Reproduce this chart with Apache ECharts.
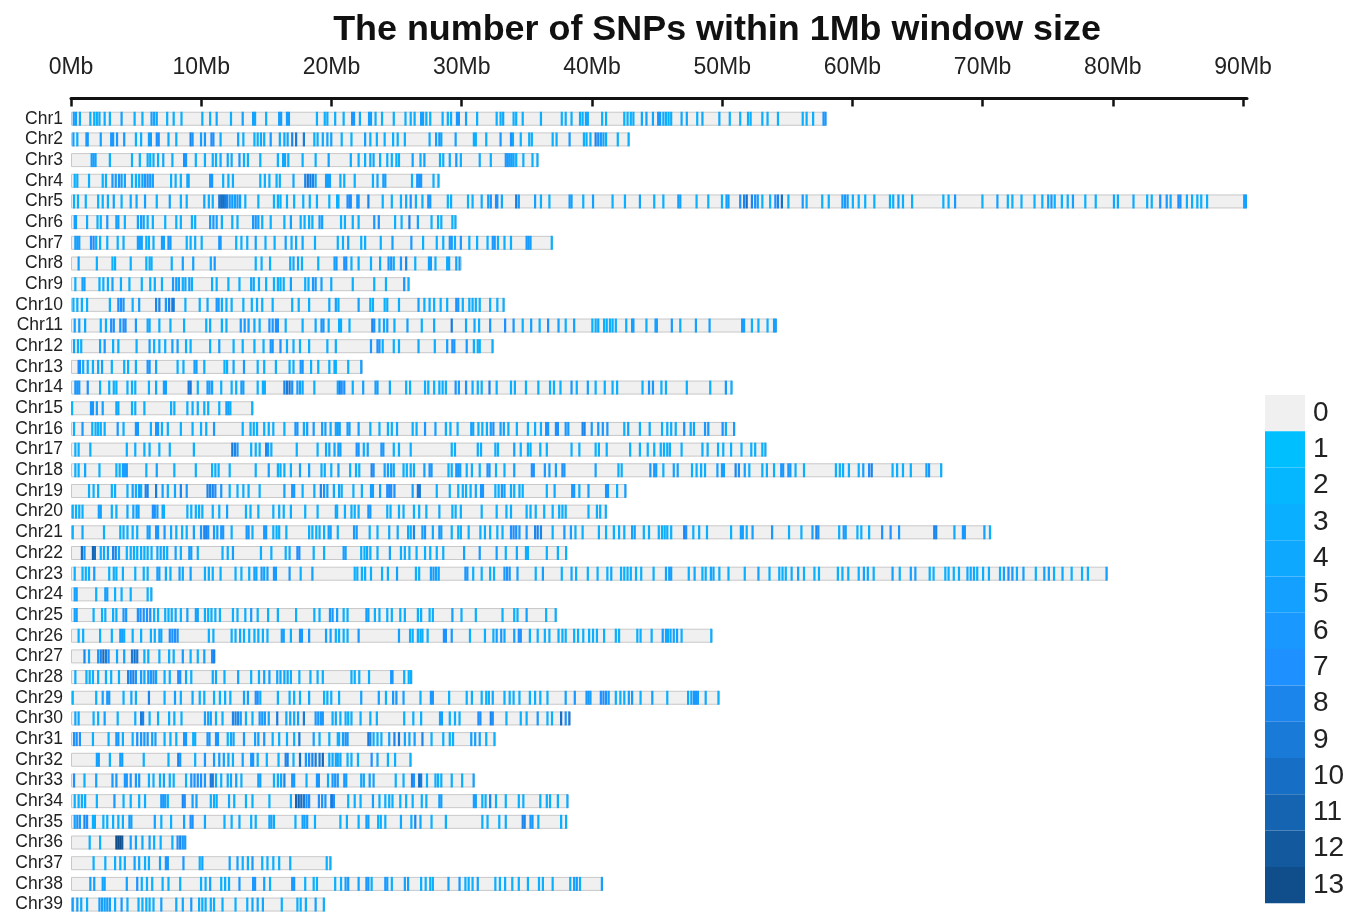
<!DOCTYPE html>
<html><head><meta charset="utf-8">
<style>html,body{margin:0;padding:0;background:#fff;overflow:hidden}#c{width:1360px;height:912px;filter:blur(0.55px)}</style>
<script src="https://cdn.jsdelivr.net/npm/echarts@6/dist/echarts.min.js"></script>
</head><body><div id="c"></div>
<script>
const chrNames = ['Chr1','Chr2','Chr3','Chr4','Chr5','Chr6','Chr7','Chr8','Chr9','Chr10','Chr11','Chr12','Chr13','Chr14','Chr15','Chr16','Chr17','Chr18','Chr19','Chr20','Chr21','Chr22','Chr23','Chr24','Chr25','Chr26','Chr27','Chr28','Chr29','Chr30','Chr31','Chr32','Chr33','Chr34','Chr35','Chr36','Chr37','Chr38','Chr39'];
const chrLengths = [58,42.9,35.9,28.3,90.3,29.6,37,30,26,33.3,54.2,32.45,22.4,50.8,14,51,53.4,66.9,42.65,41.15,70.65,38.1,79.6,6.25,37.3,49.25,11.1,26.2,49.8,38.35,32.6,26.15,31,38.2,38.1,8.85,20,40.85,19.5];
const tickMb = [0,10,20,30,40,50,60,70,80,90];
const legendCounts = [0,1,2,3,4,5,6,7,8,9,10,11,12,13];
const legendColors = ['#F0F0F0','#00BFFF','#05B7FF','#0AAFFF','#0FA8FF','#14A0FF','#1998FF','#1E90FF','#1C85EC','#197AD8','#176FC5','#1564B2','#12599E','#104E8B'];

// SNP windows per chromosome: [position in Mb, SNP count]
const chr1=[[.13,5],[.3,5],[.6,4],[1.4,3],[1.7,3],[1.9,3],[2.1,3],[2.5,3],[2.9,3],[3.8,5],[4.8,3],[5.4,3],[6.1,5],[6.3,5],[6.5,4],[7.3,3],[7.8,3],[8.4,3],[10,3],[10.6,3],[11.1,4],[12.2,3],[13.1,5],[13.9,5],[14.05,4],[14.9,3],[15.9,5],[16.05,5],[16.5,5],[16.65,5],[18.8,3],[19.4,3],[19.6,3],[20.2,3],[20.85,3],[21.5,6],[21.65,6],[22.1,4],[22.8,5],[22.95,5],[23.3,3],[23.8,3],[24.7,3],[25.6,3],[26,3],[26.3,3],[26.8,5],[26.95,5],[27.2,3],[27.5,3],[28.45,3],[28.85,3],[29.1,3],[29.55,6],[29.7,6],[30.25,5],[31.1,3],[32.6,3],[32.9,3],[33.1,4],[33.9,3],[34.1,3],[34.6,3],[36,3],[37.6,3],[37.9,3],[38.35,3],[39,3],[39.2,3],[39.45,4],[39.6,4],[40.7,3],[41,3],[42.4,3],[42.65,3],[42.9,3],[43.1,3],[43.75,4],[44.1,5],[44.6,4],[45,6],[45.15,6],[45.4,3],[45.6,3],[45.8,3],[46,3],[46.8,4],[47.2,4],[48,3],[48.4,4],[49.7,4],[50.5,3],[51.3,3],[51.9,3],[52.1,3],[53,3],[53.4,3],[54.2,3],[56.1,3],[56.4,3],[56.9,3],[57.7,6],[57.85,6]];
const chr2=[[.1,5],[.4,3],[1.1,5],[1.2,6],[2.2,5],[3,6],[3.15,6],[3.45,6],[4,6],[4.9,3],[5.3,3],[5.9,5],[6.05,5],[6.5,7],[6.65,7],[7.4,4],[8,3],[9.1,8],[9.25,6],[9.9,5],[10.2,6],[10.7,7],[10.85,7],[11.4,3],[12.75,5],[13.15,3],[14,3],[14.25,3],[14.5,4],[14.75,3],[15.25,6],[15.95,4],[16.3,4],[16.55,4],[16.9,8],[17.2,9],[17.8,9],[18.6,3],[18.85,3],[19.25,4],[19.6,4],[19.9,5],[20.7,3],[21.45,3],[22.5,5],[22.9,3],[23.4,3],[24,3],[24.65,3],[25,3],[25.55,3],[27.45,4],[27.95,5],[28.2,6],[28.35,4],[29.45,5],[30.85,3],[31,3],[31.8,3],[32.9,6],[33.7,7],[33.85,4],[34.45,3],[35.1,3],[35.3,3],[36.9,3],[37.2,3],[38.2,6],[39.3,3],[39.5,3],[39.8,3],[40.2,8],[40.4,7],[40.6,6],[40.8,4],[41,3],[41.9,3],[42.73,3]];
const chr3=[[1.5,5],[1.65,5],[1.8,5],[2.9,3],[4.6,3],[5.2,3],[5.8,3],[6,3],[6.25,3],[6.6,3],[7,4],[7.7,3],[8.6,7],[8.75,6],[9.5,3],[10.2,3],[10.8,3],[11.05,3],[11.4,4],[11.95,4],[12.25,4],[12.85,6],[13.2,3],[13.5,3],[14.45,3],[15.8,3],[16.2,4],[16.35,4],[16.6,3],[17.7,3],[18.7,3],[19.7,5],[21.4,4],[22,3],[22.5,3],[22.9,4],[23.15,4],[23.65,3],[24.2,3],[24.55,3],[24.9,3],[25.1,3],[26.15,5],[26.75,3],[27.05,5],[28.25,3],[28.5,3],[29,4],[29.5,6],[29.85,3],[31.3,4],[32.15,3],[33.3,6],[33.45,6],[33.6,5],[33.75,5],[33.9,4],[34.1,3],[34.65,3],[35.35,3],[35.73,3]];
const chr4=[[.2,3],[.4,3],[1.3,3],[2.35,3],[2.6,3],[3.1,6],[3.35,6],[3.6,6],[3.8,5],[4.05,5],[4.6,3],[4.9,3],[5.15,3],[5.4,5],[5.6,6],[5.8,6],[6,6],[6.2,5],[7.6,3],[7.95,3],[8.35,3],[8.85,4],[8.95,4],[10.6,6],[10.75,6],[11.6,3],[12,3],[12.35,3],[14.45,3],[14.8,3],[15.15,3],[15.7,3],[15.95,3],[17,4],[17.9,8],[18.1,9],[18.3,9],[18.5,8],[18.7,4],[19.5,5],[19.65,5],[19.8,5],[20.6,3],[20.9,3],[21.7,3],[23.1,3],[23.45,4],[23.9,5],[24.05,5],[26.1,3],[26.5,6],[26.65,6],[26.8,6],[27.75,3],[28.13,3]];
const chr5=[[.15,3],[.45,3],[1.05,3],[2,3],[2.35,3],[2.75,3],[3.2,5],[3.8,3],[4.5,4],[4.95,4],[5.6,5],[6.5,3],[7.5,5],[8.35,3],[8.8,3],[10.15,5],[10.5,3],[10.8,3],[11.3,9],[11.45,10],[11.6,10],[11.75,9],[11.9,8],[12.1,5],[12.3,6],[12.5,5],[12.7,5],[12.9,5],[13.3,3],[14.3,3],[15.5,3],[15.8,3],[16,3],[16.5,3],[17.05,3],[17.75,3],[18.25,3],[18.8,3],[19.75,3],[20.35,3],[20.45,3],[21.15,7],[21.3,7],[21.4,7],[21.9,6],[22,6],[22.75,8],[23.85,3],[24.55,3],[25.25,3],[25.65,4],[26,7],[26.4,3],[26.9,3],[27.35,6],[27.5,6],[28.85,3],[29.1,3],[30.4,3],[30.75,3],[31.45,4],[31.95,5],[32.15,7],[32.55,7],[32.65,7],[33,4],[34.1,9],[34.3,6],[35.55,5],[36,3],[36.65,3],[38.2,5],[38.35,5],[39.25,3],[40,5],[41.5,3],[42.45,3],[43.6,5],[44.7,3],[45.4,3],[46.55,5],[46.7,5],[47.95,3],[48.85,3],[49.9,3],[50.25,5],[50.4,5],[51.3,7],[51.6,8],[51.8,10],[52.2,8],[52.45,7],[52.65,5],[53,3],[53.6,3],[54,7],[54.2,8],[54.5,10],[55,3],[56.1,6],[56.4,3],[57.6,3],[58.1,3],[59.15,6],[59.35,6],[59.55,5],[59.95,3],[60.4,3],[60.9,3],[61.6,3],[62.8,3],[63.05,3],[63.45,5],[63.8,3],[64.5,3],[66.9,3],[67.3,3],[67.8,6],[69.9,3],[71.05,5],[71.85,3],[72.2,3],[72.9,3],[73.9,3],[74.5,3],[74.95,5],[75.2,6],[75.45,3],[76,3],[76.45,3],[76.85,5],[77.8,3],[78.6,3],[80,4],[80.3,4],[81.5,4],[82.55,3],[82.9,3],[83.55,7],[84.05,6],[84.35,4],[84.95,7],[85.1,7],[85.6,3],[86,3],[86.4,3],[86.7,3],[87.15,3],[90,5],[90.13,5]];
const chr6=[[.2,5],[.3,5],[1.15,4],[1.95,3],[2.2,3],[2.7,6],[3.4,5],[3.55,5],[4.05,3],[5.05,5],[5.3,5],[5.5,4],[5.8,3],[6.2,3],[7.15,3],[8,3],[8.35,3],[9.2,3],[9.45,3],[10.6,6],[10.85,6],[11.1,5],[11.5,3],[12.3,3],[12.7,3],[13.9,6],[14.1,6],[14.3,5],[14.6,3],[15.25,3],[16.3,3],[16.8,5],[17.55,3],[17.85,3],[18.2,3],[18.45,3],[19,5],[19.2,5],[20.65,3],[20.95,3],[21.55,3],[22,3],[23.2,6],[23.55,7],[24.8,3],[25.3,3],[25.9,8],[26.55,5],[27.6,3],[28.1,3],[28.35,3],[29.2,3],[29.43,3]];
const chr7=[[.25,5],[.4,5],[.55,5],[1.45,7],[1.65,7],[1.85,3],[2.15,3],[2.7,3],[3.5,3],[3.95,3],[5.05,5],[5.2,5],[5.35,5],[5.7,3],[5.9,3],[6.25,3],[6.9,5],[7.05,5],[7.4,6],[7.55,6],[8.8,3],[9.1,3],[9.45,3],[9.95,3],[11.3,6],[11.4,6],[12.6,3],[13,3],[13.45,3],[14.1,5],[14.85,3],[15.55,3],[16.4,5],[16.85,3],[17.2,4],[17.7,4],[18.65,3],[20.4,3],[20.8,3],[21.2,5],[22.2,3],[22.5,3],[23.7,3],[24.6,5],[26.05,6],[26.95,3],[28,3],[28.5,3],[29,6],[29.15,6],[29.4,3],[29.85,6],[30.5,3],[31.1,3],[31.9,3],[32.3,6],[32.45,6],[32.7,3],[33.2,3],[33.7,3],[34.9,6],[35.05,6],[35.2,5],[36.83,3]];
const chr8=[[.5,5],[1.9,3],[3.1,3],[3.3,3],[4.5,3],[5.7,3],[5.95,3],[6.1,3],[7.65,3],[8.5,5],[9.3,5],[10.65,4],[10.95,6],[14.1,3],[14.55,3],[15.2,3],[16.75,4],[17,4],[17.35,4],[17.65,3],[18.9,3],[20.15,5],[20.3,6],[20.9,7],[21.05,7],[21.45,3],[22,3],[22.95,3],[23.65,4],[24.3,6],[24.5,6],[24.7,4],[25.25,6],[25.65,8],[26.35,3],[27.4,5],[27.55,5],[27.9,3],[28.8,4],[28.95,4],[29.5,5],[29.75,5]];
const chr9=[[.25,3],[.8,5],[.95,5],[2.1,3],[2.4,3],[2.75,3],[3.1,5],[3.75,3],[4.4,3],[5.35,3],[6,3],[6.35,3],[6.9,3],[7.75,6],[8,6],[8.2,5],[8.5,3],[8.7,4],[9,5],[9.2,3],[10.75,3],[11.1,3],[12,3],[12.85,3],[13.75,4],[13.95,4],[14.35,3],[14.9,3],[15.5,3],[15.8,3],[16,3],[16.25,3],[16.8,5],[17.9,3],[18.15,3],[18.5,6],[18.7,6],[19.15,5],[19.9,4],[21.55,3],[23.2,3],[24.1,3],[25.5,7],[25.83,3]];
const chr10=[[.1,3],[.4,3],[.75,3],[1.15,3],[2.9,3],[3.55,7],[3.75,7],[3.95,6],[4.65,3],[5.15,5],[6.45,8],[6.7,8],[7.2,6],[7.45,8],[7.7,9],[7.8,9],[8.7,3],[9.8,3],[10.4,4],[11.1,6],[11.25,6],[11.5,3],[11.85,3],[12.25,3],[13.15,3],[13.8,3],[14.2,3],[14.6,3],[15.4,3],[16.9,3],[17.4,3],[18.2,3],[19.75,4],[20.25,5],[20.45,3],[22,5],[22.9,3],[23.1,3],[24,3],[24.2,3],[25.1,3],[26.6,5],[27.05,3],[27.45,3],[27.8,3],[28.3,3],[28.8,3],[29.5,7],[29.65,6],[30,3],[30.5,3],[30.75,3],[31,3],[31.3,3],[32.1,3],[32.65,3],[33.13,3]];
const chr11=[[.2,5],[.55,5],[1,4],[2.2,3],[2.6,3],[3,7],[3.2,7],[3.7,6],[3.95,7],[4.1,7],[4.9,6],[5.8,4],[5.95,4],[6.7,3],[7.55,3],[8.6,3],[10.3,3],[10.6,4],[11.5,3],[11.85,3],[12.95,6],[13.25,6],[13.55,5],[14,4],[14.4,3],[15.15,6],[15.4,6],[15.65,7],[15.8,7],[16.4,3],[17.7,3],[18.7,4],[19.15,6],[19.3,6],[19.7,3],[20.5,3],[20.65,3],[21.3,3],[23.05,8],[23.2,7],[23.6,3],[23.95,5],[24.2,5],[24.75,3],[25.75,5],[26.85,3],[27.8,4],[29.15,9],[30.25,4],[30.9,4],[31.25,3],[32.1,6],[33.25,7],[33.9,6],[34.6,3],[35.25,5],[35.9,3],[36.55,7],[37.35,5],[37.9,3],[38.55,5],[39.95,3],[40.2,3],[40.4,4],[40.85,3],[41.05,3],[41.3,3],[41.5,3],[41.75,3],[42.55,3],[43,5],[43.1,5],[44.1,3],[44.8,5],[44.9,5],[46.05,6],[46.7,3],[47.9,5],[48.95,5],[51.45,6],[51.6,5],[52.2,3],[52.7,3],[53.4,3],[53.9,5],[54.03,5]];
const chr12=[[.15,5],[.45,3],[.7,3],[2.15,4],[2.5,6],[3.15,3],[3.55,3],[4.95,3],[5.95,5],[6.3,3],[6.7,3],[7.15,3],[7.7,5],[8.1,5],[8.75,3],[9.1,3],[10.6,3],[11.3,5],[12.4,3],[13.1,3],[14,3],[14.7,3],[15.25,6],[15.4,6],[16,7],[16.5,3],[17,3],[17.5,3],[18.2,3],[19.6,3],[20.25,3],[22.95,6],[23.45,7],[23.6,6],[23.85,3],[24.7,3],[25.1,3],[26.6,4],[27.85,3],[28.8,5],[29.2,7],[29.35,6],[30.3,6],[30.85,3],[31.15,3],[31.3,3],[32.28,3]];
const chr13=[[.5,7],[.6,7],[.85,3],[1.2,3],[1.6,3],[2,4],[2.3,5],[3.05,3],[4,3],[4.3,3],[4.9,3],[5.8,6],[5.95,6],[6.45,4],[8.1,3],[8.55,3],[9.4,5],[9.55,5],[10.15,3],[11.7,3],[11.9,3],[12.4,4],[13.2,6],[14.25,3],[14.75,3],[15.65,3],[16.7,3],[17,3],[17.55,6],[17.7,6],[18.35,3],[18.9,3],[19.75,3],[20.15,3],[20.25,3],[21.2,3],[22.2,5]];
const chr14=[[.25,6],[.4,6],[.55,6],[1.2,7],[2.15,3],[2.85,3],[3.2,3],[3.4,3],[4.25,3],[4.6,3],[4.85,3],[5.9,3],[6.45,4],[7.05,5],[7.2,5],[8.95,9],[9.1,9],[9.65,3],[10.4,5],[10.55,5],[10.75,5],[11.45,3],[12.25,3],[12.6,3],[13,5],[13.15,5],[14.25,3],[14.65,3],[14.8,3],[16.3,8],[16.5,9],[16.7,9],[16.9,7],[17.3,5],[17.5,5],[17.7,4],[18.6,3],[20.4,4],[20.55,8],[20.7,7],[20.9,7],[21.55,3],[22.35,5],[23.3,5],[23.45,5],[24.4,4],[25.65,3],[25.95,3],[27.1,3],[27.35,3],[27.8,3],[28.2,3],[28.45,3],[28.7,3],[29.45,7],[29.7,5],[30.25,7],[30.75,3],[31.15,3],[31.45,3],[32.05,8],[32.6,3],[33.7,3],[34,3],[34.85,3],[35.8,3],[36.7,3],[37,3],[37.5,3],[38.35,6],[38.75,3],[39.6,5],[40.2,3],[40.9,3],[41.5,3],[41.85,3],[43.8,3],[44.3,6],[44.6,6],[45.25,3],[45.6,3],[47.2,3],[49,3],[50.2,6],[50.63,3]];
const chr15=[[0,2],[1.45,6],[1.6,6],[1.9,5],[2.35,5],[3.4,4],[3.55,4],[4.6,3],[4.85,3],[5.55,3],[7.6,3],[7.85,3],[8.85,3],[9.25,3],[9.65,3],[10.15,3],[10.45,3],[11.3,3],[11.85,5],[12,5],[12.15,3],[13.83,3]];
const chr16=[[.15,3],[.8,6],[1.55,3],[1.8,3],[2,3],[2.2,3],[2.5,3],[3.5,6],[3.95,3],[4.9,6],[5.05,6],[6.05,3],[6.45,6],[6.6,6],[6.9,3],[7.35,3],[8.35,3],[9.25,3],[9.9,3],[10.3,3],[10.9,6],[13.1,3],[13.7,3],[13.95,3],[14.2,3],[14.75,3],[15.1,3],[15.45,3],[16.3,3],[17.15,6],[17.3,6],[17.8,4],[18.05,5],[18.55,6],[19.2,6],[19.45,5],[19.85,4],[20.25,4],[20.4,5],[20.55,5],[21.15,5],[21.3,5],[22,5],[22.9,3],[23.6,3],[24.25,3],[24.55,3],[24.95,4],[26.15,3],[26.45,3],[27.1,6],[27.9,5],[28.7,3],[29.05,3],[29.6,3],[30.65,5],[30.8,4],[31.2,3],[31.5,3],[31.85,3],[32.15,5],[32.35,7],[32.9,5],[33.15,5],[33.5,3],[34.15,3],[35,3],[35.55,3],[36,3],[36.4,7],[36.55,6],[37.15,7],[37.3,7],[37.9,6],[38.1,6],[39.2,8],[39.35,8],[39.9,6],[40.4,6],[40.75,6],[41.1,6],[42.4,3],[42.7,5],[43.6,3],[44.35,4],[45.3,3],[45.7,3],[46,3],[46.35,3],[47,7],[47.5,3],[47.75,4],[48.6,6],[48.85,6],[49.95,7],[50.2,3],[50.83,6]];
const chr17=[[.25,3],[.5,3],[1.4,3],[4.2,3],[4.85,3],[5.55,3],[5.95,3],[6.7,3],[7.5,3],[9.35,3],[12.3,9],[12.5,8],[12.7,6],[13.75,3],[14.1,3],[14.4,3],[14.9,8],[15.05,6],[15.3,3],[17.25,3],[18.85,3],[19.5,4],[19.75,4],[20.15,4],[20.45,5],[20.6,5],[21.85,7],[22,6],[22.4,3],[22.7,5],[23.75,6],[23.9,6],[24.7,3],[25.1,3],[26,3],[29.15,3],[29.4,3],[31.15,4],[31.4,3],[32.5,3],[32.7,3],[33.95,5],[34.45,3],[35,3],[35.2,3],[35.95,3],[36.45,3],[38.35,3],[38.95,3],[40.2,3],[40.45,3],[41.05,3],[42.85,3],[43.6,3],[44.2,3],[44.7,3],[45.2,3],[45.45,3],[45.7,3],[45.9,3],[46.8,3],[48.4,3],[48.8,3],[49.6,3],[50,3],[50.6,3],[51.4,3],[52.15,3],[52.45,3],[53,3],[53.23,3]];
const chr18=[[.25,3],[.5,3],[1,4],[2.1,3],[3.4,3],[3.65,3],[3.9,5],[4.05,5],[4.2,6],[5.7,3],[6.5,5],[7.85,3],[9.5,3],[10.75,3],[11,3],[11.25,3],[12.1,3],[14.1,3],[15.1,5],[15.8,3],[16,3],[16.3,3],[16.8,3],[17.5,5],[18.2,5],[19.15,3],[19.4,3],[19.9,3],[20.45,5],[21.35,3],[21.8,3],[22.05,3],[23,8],[23.15,7],[24,5],[24.25,5],[24.5,5],[24.7,4],[25.45,3],[25.7,3],[26,3],[26.25,3],[27.05,5],[27.45,6],[27.6,6],[28.9,3],[29.15,3],[29.5,6],[29.65,6],[29.8,5],[30.3,3],[30.7,3],[31.3,3],[31.9,6],[32.05,6],[32.55,3],[33.2,3],[33.95,5],[35.3,7],[35.45,7],[36.3,6],[36.65,5],[37.15,5],[37.65,7],[37.8,6],[40.2,5],[41.95,3],[42.2,3],[44.4,6],[44.7,6],[44.85,5],[45.4,3],[46.2,5],[46.5,5],[47.6,3],[47.95,3],[48.3,3],[48.6,3],[49.55,5],[49.9,5],[50.05,5],[50.95,8],[51.2,7],[51.65,5],[52,3],[53,3],[53.35,3],[53.9,3],[54.45,6],[54.6,6],[55,6],[55.15,6],[55.55,3],[56.2,3],[58.65,3],[58.95,3],[59.2,3],[59.65,3],[60.4,3],[60.75,5],[61.2,7],[61.4,8],[63,3],[63.35,3],[63.8,3],[64.4,3],[65.6,5],[65.8,6],[66.73,3]];
const chr19=[[1.3,3],[1.65,3],[2,3],[3.05,3],[3.3,3],[4.25,3],[4.65,5],[4.9,3],[5.15,6],[5.3,3],[5.65,8],[5.8,8],[6.45,9],[6.95,5],[7.35,3],[7.9,4],[8.35,8],[8.8,6],[10.4,8],[10.6,8],[10.8,8],[11,7],[11.45,6],[12.1,3],[12.7,3],[13.15,3],[13.55,3],[14.4,3],[16.3,5],[16.9,6],[17.05,6],[17.7,3],[18.6,4],[19.1,8],[19.35,7],[19.6,5],[20.1,4],[20.5,4],[20.7,3],[21.6,3],[22.25,3],[22.95,5],[23.1,5],[23.65,5],[24.2,7],[24.35,7],[24.5,7],[24.75,7],[26.15,5],[26.55,9],[26.7,9],[28,3],[29,3],[29.65,3],[30,3],[30.25,3],[30.6,3],[31,4],[31.4,6],[31.55,6],[32.5,3],[32.75,3],[33,6],[33.2,5],[33.7,3],[33.95,3],[34.35,3],[34.6,3],[36.45,3],[37.05,4],[38.4,6],[38.55,6],[38.95,3],[39.65,5],[41,6],[41.15,6],[41.85,3],[42.48,5]];
const chr20=[[.05,3],[.3,3],[.55,3],[.8,3],[2.05,5],[2.2,5],[3.05,3],[3.4,3],[4.25,4],[4.7,4],[4.95,5],[5.1,5],[6.2,7],[6.35,7],[6.55,5],[6.95,4],[7.05,3],[8.85,3],[9.15,3],[9.5,3],[9.75,3],[10,3],[10.8,3],[11.3,3],[11.9,5],[13.35,3],[13.7,3],[14.3,3],[15.45,3],[15.9,3],[16.25,3],[16.8,3],[17.9,3],[18.85,3],[20.25,5],[20.35,3],[20.95,3],[21.45,3],[21.7,3],[22,3],[22.75,6],[22.9,6],[24.2,3],[24.45,3],[25.1,3],[25.45,3],[26.25,3],[26.65,3],[27.2,3],[28.2,4],[29.2,3],[29.45,3],[29.85,3],[31.45,3],[32.6,3],[33.35,3],[33.7,3],[34.9,3],[35.2,3],[35.6,3],[36.25,3],[36.9,3],[37.4,3],[37.65,3],[37.9,3],[39.65,3],[40.3,3],[40.55,3],[40.98,3]];
const chr21=[[.05,3],[.8,4],[2.45,3],[3.7,3],[3.95,3],[4.25,3],[4.65,3],[5,3],[5.8,5],[5.95,5],[6.45,6],[6.6,6],[7.1,6],[7.6,4],[8,3],[8.45,3],[8.8,3],[9.35,5],[9.9,6],[10.15,8],[10.3,8],[10.45,7],[10.9,6],[11.15,5],[11.45,6],[11.6,6],[12.25,3],[13.4,6],[13.55,6],[13.85,3],[14.75,6],[14.9,6],[15.45,3],[15.7,3],[15.9,3],[16.45,3],[18.2,3],[18.45,3],[18.75,3],[19,3],[19.35,3],[19.7,5],[19.85,5],[20.4,3],[21.65,6],[21.85,6],[22.85,3],[23.45,3],[24.35,4],[25,4],[25.8,4],[26,3],[26.25,8],[26.9,6],[27.1,6],[27.7,4],[28.2,6],[28.35,5],[29.15,3],[29.65,3],[29.85,3],[30.45,3],[31.35,3],[31.7,3],[32.1,3],[32.65,3],[33.05,3],[33.7,7],[33.9,7],[34.1,7],[34.35,6],[34.9,6],[35.55,8],[35.75,8],[36,8],[36.9,3],[37.8,6],[38.3,5],[38.65,3],[39.2,3],[40.45,3],[41,3],[41.6,3],[42,3],[42.4,3],[43,5],[43.2,5],[43.9,3],[44.3,3],[45.05,3],[45.3,3],[45.5,3],[45.7,3],[46,3],[47,8],[47.15,7],[47.7,3],[48.15,3],[48.75,3],[50.6,3],[51.35,5],[51.5,5],[51.8,3],[52.25,5],[53.75,6],[55.05,3],[56,3],[56.85,5],[57.15,8],[57.3,7],[58.9,3],[59.25,6],[59.4,5],[60.3,3],[60.6,3],[61.2,3],[62.2,7],[62.85,7],[63.5,6],[66.2,8],[66.35,8],[67.75,4],[68.4,6],[68.55,6],[70.05,5],[70.48,3]];
const chr22=[[.75,10],[.95,6],[1.6,11],[1.75,10],[2.2,3],[2.45,4],[2.75,5],[3.15,8],[3.35,8],[3.6,4],[4.2,3],[4.5,3],[4.75,3],[5,3],[5.3,3],[5.55,3],[5.8,3],[6.1,3],[6.55,4],[6.8,4],[7.05,4],[7.3,3],[7.95,5],[8.35,3],[9,5],[9.15,5],[9.65,3],[11.55,3],[11.95,3],[12.35,5],[14.5,3],[15.3,3],[16.4,3],[16.7,4],[17.3,7],[17.45,7],[18.55,3],[19.35,3],[20.85,5],[21,5],[22.2,3],[22.45,3],[22.65,4],[22.9,3],[23.45,3],[24.4,5],[25.25,3],[25.55,3],[25.9,3],[26.45,3],[27.1,3],[27.5,3],[28,3],[28.5,3],[30.1,5],[31.3,6],[32.6,5],[33.3,3],[34.15,4],[34.85,3],[35,3],[36.45,3],[37.3,3],[37.93,3]];
const chr23=[[.2,3],[.8,3],[1.05,3],[1.3,3],[1.7,6],[2.85,3],[3.2,3],[3.4,3],[3.9,3],[4.85,3],[5.5,3],[5.8,3],[6.55,5],[6.7,5],[7.2,4],[7.55,3],[8.25,5],[8.5,4],[9.1,5],[10.2,3],[10.5,3],[10.8,3],[11.4,3],[12.55,3],[13,3],[13.6,3],[14,5],[14.15,4],[14.55,5],[14.75,5],[15,5],[15.5,6],[15.65,6],[16.7,6],[17.55,3],[18.45,5],[21.7,3],[21.9,3],[22.25,3],[22.5,3],[22.95,3],[23.8,3],[24.25,3],[24.95,5],[26.4,3],[26.65,3],[27.55,5],[27.75,5],[27.95,5],[28.15,5],[30.2,6],[30.35,6],[30.8,3],[31.45,3],[32.1,3],[32.4,3],[33.2,6],[33.4,7],[33.6,6],[34.2,5],[35.6,3],[36.15,5],[37.6,3],[38.35,4],[38.7,3],[39.6,3],[40.35,3],[41.1,3],[41.4,4],[42.15,3],[42.4,3],[42.65,3],[42.9,3],[43.3,3],[43.7,3],[44.65,3],[45.6,5],[45.85,5],[46,5],[47.35,3],[47.8,4],[48.4,3],[48.65,3],[49.05,4],[49.25,4],[49.7,3],[50.4,3],[51.65,3],[52.7,5],[53.55,3],[54.3,3],[54.55,3],[54.8,3],[55.25,4],[55.75,5],[56.2,3],[57,3],[57.35,3],[58.8,3],[59.15,3],[59.6,3],[60.4,3],[60.8,5],[61.1,4],[61.55,3],[63,5],[63.55,3],[64.4,5],[64.75,5],[65.85,3],[66.15,3],[67.05,3],[67.3,3],[67.7,3],[68.1,3],[68.75,4],[69,4],[69.25,4],[69.5,3],[69.95,3],[70.4,3],[71.25,3],[71.55,5],[71.9,7],[72.2,6],[72.55,3],[73.05,5],[74,3],[74.65,5],[75,5],[75.4,3],[76.05,4],[76.75,3],[77.55,3],[78,3],[79.43,5]];
const chr24=[[.2,5],[.35,5],[1.85,3],[2.55,5],[2.7,5],[3.3,3],[3.8,3],[4.5,3],[5.8,3],[6.08,3]];
const chr25=[[.2,5],[.35,5],[1.65,3],[2.3,3],[2.55,3],[3.15,3],[3.4,3],[3.95,6],[4.15,6],[5.05,7],[5.25,7],[5.5,7],[5.75,7],[6,7],[6.3,3],[6.6,3],[7.15,3],[7.4,3],[7.65,3],[7.95,4],[8.35,3],[8.85,5],[9.5,5],[9.65,5],[10.2,3],[10.45,3],[10.7,3],[11,3],[11.35,3],[12.35,3],[12.7,3],[13.3,3],[13.75,6],[14.25,3],[15.05,3],[15.8,3],[17.2,3],[18.6,3],[19,3],[19.8,6],[20,6],[20.35,5],[20.85,3],[21.15,3],[22.6,5],[22.75,5],[23.25,3],[23.6,3],[24.2,3],[24.55,3],[25.2,3],[25.55,3],[26.55,3],[26.8,3],[27.45,3],[27.7,3],[29.2,5],[29.9,3],[31,3],[33.05,3],[33.95,3],[34.2,3],[34.9,5],[36.4,3],[37.13,3]];
const chr26=[[.5,3],[.85,3],[2.15,3],[3.05,3],[3.7,5],[3.85,5],[4,3],[4.65,3],[5.3,3],[6.05,3],[6.35,3],[6.7,4],[6.85,4],[7.5,7],[7.7,7],[7.9,7],[8.1,6],[10.5,3],[10.85,3],[12.25,3],[12.55,3],[12.9,4],[13.2,3],[13.6,3],[14,3],[14.3,3],[14.65,3],[15,3],[16.1,5],[16.25,5],[16.8,3],[17.5,6],[17.65,6],[18.2,6],[19.5,5],[19.85,5],[20.25,3],[20.5,3],[20.85,3],[21.15,3],[22,6],[25.1,5],[25.95,3],[26.15,3],[26.55,3],[26.75,3],[26.9,3],[27.3,3],[28.55,7],[28.7,7],[29.15,6],[30.55,3],[31.7,3],[32.35,3],[32.6,5],[32.95,6],[33.2,4],[33.95,5],[34.3,7],[34.45,7],[35.15,3],[35.75,3],[36.3,3],[36.65,3],[37.35,3],[37.65,3],[37.9,3],[38.55,3],[38.85,3],[39.25,3],[39.7,3],[40,3],[40.3,3],[40.85,3],[41.75,3],[42,3],[43.4,3],[43.65,3],[44.5,3],[45.35,6],[45.6,4],[45.75,4],[45.95,4],[46.2,5],[46.45,5],[46.8,3],[49.08,3]];
const chr27=[[.95,8],[1.3,4],[2,6],[2.2,8],[2.4,10],[2.6,9],[2.8,7],[3.45,4],[4,5],[4.6,9],[4.8,10],[5,9],[5.55,3],[5.85,3],[6.7,3],[7.45,3],[7.8,3],[8.5,6],[9.1,3],[9.65,3],[10.15,5],[10.75,7],[10.9,8]];
const chr28=[[.25,3],[1.1,3],[1.35,3],[1.6,3],[2,3],[2.6,3],[3,3],[3.6,3],[4.3,8],[4.5,8],[4.7,8],[4.9,7],[5.3,5],[5.55,4],[5.85,6],[6.05,6],[6.25,6],[6.45,5],[7.1,3],[7.5,3],[8.15,7],[8.3,7],[8.75,4],[9.15,3],[10.8,4],[11.05,4],[11.7,3],[12.75,5],[13.75,3],[14.35,3],[14.75,5],[15.15,5],[15.75,4],[16,4],[16.3,4],[16.55,4],[16.8,3],[17.45,3],[18.3,3],[18.85,3],[19.25,3],[21.45,3],[21.7,3],[22.05,3],[22.8,3],[24.5,6],[24.6,6],[25.5,3],[25.85,3],[26.03,3]];
const chr29=[[.05,2],[1.85,3],[2.35,5],[2.7,6],[2.85,6],[3.95,3],[4.55,4],[4.9,3],[5.9,8],[7.1,3],[7.9,5],[8.35,3],[9.25,4],[9.8,3],[10.15,3],[10.9,3],[11.35,3],[11.75,3],[12.15,3],[13.2,5],[13.5,5],[14.1,7],[14.25,7],[14.45,3],[15.8,3],[16.7,3],[17.05,3],[17.5,3],[18.2,4],[19.35,3],[19.6,3],[19.9,3],[20.5,3],[22.2,5],[23.55,5],[24.1,3],[24.65,6],[24.9,6],[25.45,5],[26.75,3],[27.55,6],[27.7,6],[28.95,3],[30.3,3],[30.7,3],[31.45,3],[31.8,3],[32,3],[32.3,4],[33.2,3],[33.6,3],[33.9,3],[34.35,3],[35.15,3],[35.55,3],[35.95,3],[36.5,3],[37.9,5],[38.6,6],[39.5,6],[39.65,6],[39.8,5],[40.6,7],[40.8,7],[41,7],[41.2,5],[41.75,3],[42.1,3],[42.4,3],[42.75,5],[43,6],[43.65,3],[44.55,5],[45.7,3],[47.3,4],[47.55,4],[47.75,6],[47.9,6],[48.05,5],[48.65,4],[49.63,3]];
const chr30=[[.25,4],[.5,4],[1.65,3],[2,3],[2.5,5],[3.5,3],[4.85,3],[5.3,9],[5.45,8],[5.95,3],[6.6,3],[7.45,3],[7.85,3],[8.4,3],[10.2,5],[10.45,5],[10.65,5],[11.05,3],[11.55,3],[12.35,8],[12.55,8],[12.75,8],[12.95,5],[13.35,3],[13.85,3],[14.4,6],[14.6,6],[14.8,6],[15.1,4],[15.75,9],[16.45,4],[16.75,4],[17.05,4],[17.35,5],[17.8,9],[18.7,6],[18.9,6],[19.1,6],[19.25,6],[20,3],[20.25,4],[20.6,3],[21,3],[21.2,3],[21.45,3],[22.15,3],[22.9,3],[23.4,3],[25.5,3],[26.2,3],[26.8,3],[28.25,5],[28.4,5],[29,3],[29.4,3],[29.75,3],[31.2,7],[31.35,7],[32.15,8],[32.3,7],[33.35,3],[34.45,3],[34.9,3],[35.75,6],[36.5,3],[36.85,3],[37.55,10],[37.9,7],[38.18,9]];
const chr31=[[.15,7],[.35,7],[.6,7],[1.6,3],[2.8,3],[3.4,6],[3.55,6],[3.9,3],[4.65,3],[5,7],[5.3,6],[5.55,6],[5.8,6],[6.15,5],[6.4,5],[7.1,3],[7.55,3],[8,3],[8.6,6],[8.75,6],[9.3,3],[9.45,3],[10.4,6],[10.55,6],[11.05,6],[11.2,6],[11.95,3],[12.2,4],[12.4,4],[13.2,6],[14.05,5],[14.3,5],[14.75,6],[15.4,3],[15.9,3],[16.5,3],[17.05,3],[17.45,9],[18.55,5],[19,3],[19.75,3],[20.4,3],[20.5,3],[20.8,5],[21,6],[21.15,6],[22.75,9],[22.9,8],[23.15,3],[23.45,3],[23.75,3],[24.35,5],[24.75,8],[25.1,9],[25.55,5],[25.9,4],[26.3,5],[26.9,8],[27.6,3],[28.5,3],[29,3],[29.25,3],[30.65,5],[30.95,5],[31.3,5],[31.8,3],[32.43,3]];
const chr32=[[1.9,5],[2.05,5],[2.9,3],[3.7,5],[3.85,5],[5.5,3],[7.4,3],[8.15,8],[8.3,6],[9.45,3],[10.2,6],[10.9,6],[11.3,5],[11.65,5],[12,4],[12.35,3],[13.1,5],[13.75,6],[13.9,6],[14.25,3],[14.95,3],[15.85,3],[16.4,8],[16.55,8],[17,3],[17.5,10],[17.95,6],[18.2,7],[18.45,8],[18.7,9],[19,9],[19.25,11],[19.75,3],[20,4],[20.25,4],[20.4,4],[20.6,4],[21.15,3],[21.45,3],[21.95,3],[23,7],[23.45,4],[24.25,3],[24.8,3],[25.98,3]];
const chr33=[[.15,7],[.95,3],[1.85,5],[3.1,6],[3.4,6],[4.05,6],[4.2,6],[4.5,6],[4.9,6],[5.15,6],[5.9,3],[6.25,3],[6.75,3],[7.05,5],[7.5,3],[7.8,3],[8.75,3],[9.15,6],[9.4,7],[9.65,7],[9.9,7],[10.2,6],[10.65,9],[10.8,9],[11.05,4],[11.45,3],[11.95,4],[12.2,4],[12.6,5],[13,3],[14.3,5],[14.45,5],[15.5,3],[15.8,4],[16.05,4],[16.3,8],[16.9,6],[17.05,6],[18,3],[18.8,6],[18.95,6],[19.65,4],[20,6],[20.2,6],[20.4,6],[20.9,6],[21.05,5],[22.2,4],[22.4,4],[22.85,5],[23.15,5],[24.85,3],[25.45,3],[26.1,8],[26.25,7],[26.65,10],[26.8,9],[27.25,3],[27.9,3],[28.1,3],[28.35,3],[29.15,3],[29.95,3],[30.83,5]];
const chr34=[[.2,3],[.5,3],[.75,3],[1,3],[1.9,3],[3.25,6],[3.95,3],[4.5,3],[5.15,3],[5.6,3],[6.85,6],[7,6],[7.15,5],[7.35,3],[8.5,8],[8.65,7],[9.25,5],[9.55,5],[10.65,3],[10.9,3],[11.1,3],[12.05,4],[12.45,3],[13.35,3],[13.85,3],[15.15,3],[16.8,3],[17.2,11],[17.4,11],[17.6,10],[17.8,9],[18,7],[18.2,7],[18.95,7],[19.2,7],[19.45,6],[19.9,8],[19.95,9],[20.1,7],[21.2,3],[21.7,3],[22.15,3],[23.1,5],[23.6,3],[24.05,3],[24.35,3],[24.6,3],[25.2,3],[25.65,3],[26.15,3],[26.85,3],[27.2,3],[28.2,5],[28.35,5],[30.85,5],[31,5],[31.5,3],[31.75,3],[32.1,8],[32.55,3],[33.3,3],[34.3,3],[34.65,3],[35.95,3],[36.45,3],[36.7,3],[37.3,3],[38.03,4]];
const chr35=[[.2,5],[.4,6],[.6,6],[.95,8],[1.15,7],[1.6,3],[1.75,3],[2.4,3],[2.7,3],[3.15,3],[3.55,3],[3.9,3],[4.4,5],[4.55,5],[6.35,5],[6.85,3],[7.6,3],[8.6,5],[9.1,7],[9.25,7],[10.2,4],[11.7,3],[12.25,3],[12.85,4],[13.75,3],[14.1,3],[15.15,4],[15.3,4],[15.5,4],[17.15,3],[17.7,5],[17.85,5],[18.05,5],[18.65,3],[20.6,3],[21.1,3],[22,3],[22.6,5],[22.75,5],[23.5,3],[23.7,3],[24.05,3],[25.25,4],[26.05,3],[26.35,8],[26.75,4],[27.6,3],[28.7,3],[31.5,3],[31.9,3],[32.8,3],[33.3,4],[34.6,8],[34.75,8],[35.2,6],[35.35,6],[35.8,3],[37.55,3],[37.93,3]];
const chr36=[[1.35,3],[2.15,3],[3.4,13],[3.55,13],[3.7,13],[3.85,12],[4.5,5],[4.9,5],[5.4,4],[5.95,5],[6.3,3],[6.8,3],[7.7,3],[8.1,7],[8.3,8],[8.5,6],[8.68,5]];
const chr37=[[1.65,3],[2.55,3],[3.3,3],[3.7,3],[4.05,3],[4.8,5],[5.15,4],[5.6,3],[5.9,3],[6.75,5],[7.2,6],[7.35,6],[8.55,6],[9.8,3],[10,5],[12.1,5],[12.7,5],[13.1,3],[13.5,3],[13.85,6],[14.6,3],[15,3],[15.45,3],[15.9,3],[16.75,3],[19.55,3],[19.83,3]];
const chr38=[[1.4,5],[1.7,5],[2.35,5],[2.5,4],[4.2,5],[5,7],[5.35,3],[5.75,3],[6.15,3],[6.95,3],[7.4,3],[8.3,3],[9.9,3],[10.25,3],[10.6,5],[11.45,3],[11.75,3],[12.05,3],[12.85,6],[13.9,6],[14.05,6],[14.75,5],[15.2,3],[16.9,6],[17.05,6],[17.9,3],[18.55,3],[18.8,3],[20.2,3],[20.65,3],[21,5],[21.2,6],[22,5],[22.6,6],[22.75,6],[23,3],[24.05,6],[24.2,5],[24.55,3],[25.55,5],[25.8,5],[26.8,3],[27.15,3],[27.5,3],[27.7,3],[28.9,5],[29.75,6],[30.2,3],[30.45,3],[30.75,3],[31.15,5],[32.5,3],[32.85,3],[33.25,3],[33.8,3],[34.3,3],[35,3],[35.85,3],[36.15,3],[36.9,3],[38.25,3],[38.55,5],[38.75,6],[39,3],[40.68,5]];
const chr39=[[.05,5],[.4,5],[.7,4],[1.15,3],[2.1,5],[2.3,5],[2.5,5],[2.7,5],[2.9,5],[3.3,3],[3.8,6],[4.25,3],[5.1,3],[5.4,3],[5.7,3],[5.95,3],[6.25,3],[6.85,5],[8,4],[8.5,4],[9.15,6],[9.75,3],[10,3],[10.25,3],[10.65,3],[10.9,3],[11.55,3],[12.55,3],[13.45,3],[13.85,4],[14.25,4],[14.65,4],[16.1,3],[17.3,3],[17.55,3],[17.95,3],[18.7,5],[19.33,3]];

const allChr=[chr1,chr2,chr3,chr4,chr5,chr6,chr7,chr8,chr9,chr10,chr11,chr12,chr13,chr14,chr15,chr16,chr17,chr18,chr19,chr20,chr21,chr22,chr23,chr24,chr25,chr26,chr27,chr28,chr29,chr30,chr31,chr32,chr33,chr34,chr35,chr36,chr37,chr38,chr39];
const windowMb = 0.17;
const stripes=[];
allChr.forEach((list,i)=>list.forEach(w=>stripes.push([w[0],i,w[1]])));

const chart=echarts.init(document.getElementById('c'),null,{renderer:'canvas'});
const font='"Liberation Sans",Arial,sans-serif';
chart.setOption({
  animation:false,
  backgroundColor:'#fff',
  title:{text:'The number of SNPs within 1Mb window size',left:712,top:7,textAlign:'center',
    textStyle:{fontFamily:font,fontSize:35.9,fontWeight:'bold',color:'#111'}},
  grid:{left:71,top:108.4,width:1176,height:806.5,outerBoundsMode:'none'},
  xAxis:{type:'value',position:'top',min:0,max:90.3,offset:10,
    axisLine:{show:true,lineStyle:{color:'#111',width:3}},
    axisTick:{show:true,inside:true,length:8,lineStyle:{color:'#111',width:2.5},customValues:tickMb},
    axisLabel:{customValues:tickMb,formatter:'{value}Mb',fontFamily:font,fontSize:23,color:'#222',margin:19},
    splitLine:{show:false}},
  yAxis:{type:'category',inverse:true,data:chrNames,
    axisLine:{show:false},axisTick:{show:false},
    axisLabel:{interval:0,fontFamily:font,fontSize:17.5,color:'#222',margin:8,padding:[2,0,0,0]}},
  visualMap:{type:'piecewise',seriesIndex:1,dimension:2,
    left:1265,top:395,orient:'vertical',align:'left',inverse:true,padding:0,itemWidth:40,itemHeight:36.3,itemGap:0,itemSymbol:'rect',
    textGap:8,selectedMode:false,hoverLink:false,
    textStyle:{fontFamily:font,fontSize:28,color:'#222'},
    pieces:legendCounts.map((v,i)=>({value:v,label:String(v),color:legendColors[i]}))},
  series:[
    {type:'bar',data:chrLengths,barWidth:14,silent:true,
      itemStyle:{color:'#F0F0F0',borderColor:'#C8C8C8',borderWidth:1}},
    {type:'custom',data:stripes,silent:true,z:3,encode:{x:0,y:1},
      renderItem:function(params,api){
        const p=api.coord([api.value(0),api.value(1)]);
        const w=api.size([windowMb,0])[0];
        return {type:'rect',shape:{x:p[0],y:p[1]-7,width:w,height:14},style:{fill:api.visual('color')}};
      }}
  ]
});
</script></body></html>
